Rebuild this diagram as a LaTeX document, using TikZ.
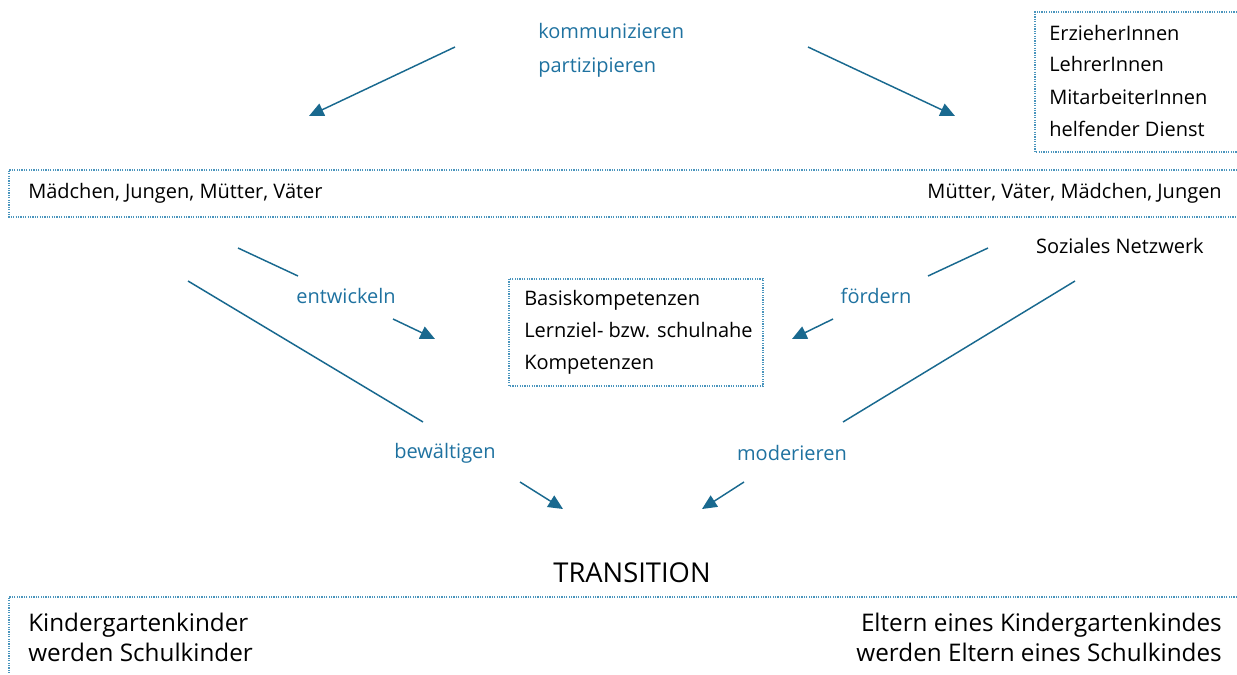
\documentclass[tikz,border=0pt]{standalone}
\usepackage{fontspec}
\setmainfont{Open Sans}
\usetikzlibrary{arrows.meta}
\definecolor{arrblue}{HTML}{19698F}
\definecolor{lblblue}{HTML}{1F72A0}
\definecolor{dotblue}{HTML}{4A95BD}
\tikzset{
  x=0.75pt, y=-0.75pt,
  txt/.style={inner sep=0pt, font=\fontsize{15}{24}\selectfont, text=black},
  lbl/.style={inner sep=0pt, font=\fontsize{15}{24}\selectfont, text=lblblue},
  big/.style={inner sep=0pt, font=\fontsize{18.2}{22.5}\selectfont, text=black},
  conn/.style={draw=arrblue, line width=1.1pt},
  arr/.style={conn, -{Triangle[length=11pt,width=10pt]}},
  dotbox/.style={draw=dotblue, line width=0.9pt, dash pattern=on 0.9pt off 0.9pt},
}
\begin{document}
\begin{tikzpicture}
\useasboundingbox (0,0) rectangle (1237,674);
% boxes
\draw[dotbox] (1237,12) -- (1035,12) -- (1035,152) -- (1237,152);
\draw[dotbox] (1237,170) -- (9,170) -- (9,217) -- (1237,217);
\draw[dotbox] (509,279) rectangle (763,386);
\draw[dotbox] (1237,597) -- (9,597) -- (9,674);
% texts
\node[lbl, anchor=west, align=left, font=\fontsize{15}{25.5}\selectfont] (komm) at (538,50.5) {kommunizieren\\partizipieren};
\node[txt, anchor=west, align=left] (staff) at (1049,80.5) {ErzieherInnen\\LehrerInnen\\MitarbeiterInnen\\helfender Dienst};
\node[txt, anchor=west] (kids) at (28,193) {Mädchen, Jungen, Mütter, Väter};
\node[txt, anchor=east] (parents) at (1222,193) {Mütter, Väter, Mädchen, Jungen};
\node[txt, anchor=east] (netz) at (1204,246) {Soziales Netzwerk};
\node[txt, anchor=west, align=left] (komp) at (524,332) {Basiskompetenzen\\Lernziel- bzw. schulnahe\\Kompetenzen};
\node[lbl] (entw) at (346,296) {entwickeln};
\node[lbl] (foerd) at (876,296) {fördern};
\node[lbl] (bew) at (445,453) {bewältigen};
\node[lbl] (mod) at (792,453) {moderieren};
\node[inner sep=0pt, font=\fontsize{20.5}{24}\selectfont] (trans) at (632,573) {TRANSITION};
\node[big, anchor=west, align=left] (kg) at (28,637) {Kindergartenkinder\\werden Schulkinder};
\node[big, anchor=east, align=right] (el) at (1222,637) {Eltern eines Kindergartenkindes\\werden Eltern eines Schulkindes};
% connector end points
\coordinate (t1s) at (455,47); \coordinate (t1e) at (309,116);
\coordinate (t2s) at (808,47); \coordinate (t2e) at (955,116);
\coordinate (e1) at (238,248); \coordinate (e2) at (298,276);
\coordinate (e3) at (393,319); \coordinate (e4) at (435,339);
\coordinate (f1) at (988,248); \coordinate (f2) at (928,276);
\coordinate (f3) at (833,319); \coordinate (f4) at (792,339);
\coordinate (b1) at (188,281); \coordinate (b2) at (423,422);
\coordinate (b3) at (520,482); \coordinate (b4) at (563,509);
\coordinate (m1) at (1075,281); \coordinate (m2) at (843,422);
\coordinate (m3) at (744,482); \coordinate (m4) at (702,509);
% connectors
\draw[arr] (t1s) -- (t1e);
\draw[arr] (t2s) -- (t2e);
\draw[conn] (e1) -- (e2); \draw[arr] (e3) -- (e4);
\draw[conn] (f1) -- (f2); \draw[arr] (f3) -- (f4);
\draw[conn] (b1) -- (b2); \draw[arr] (b3) -- (b4);
\draw[conn] (m1) -- (m2); \draw[arr] (m3) -- (m4);
\end{tikzpicture}
\end{document}
